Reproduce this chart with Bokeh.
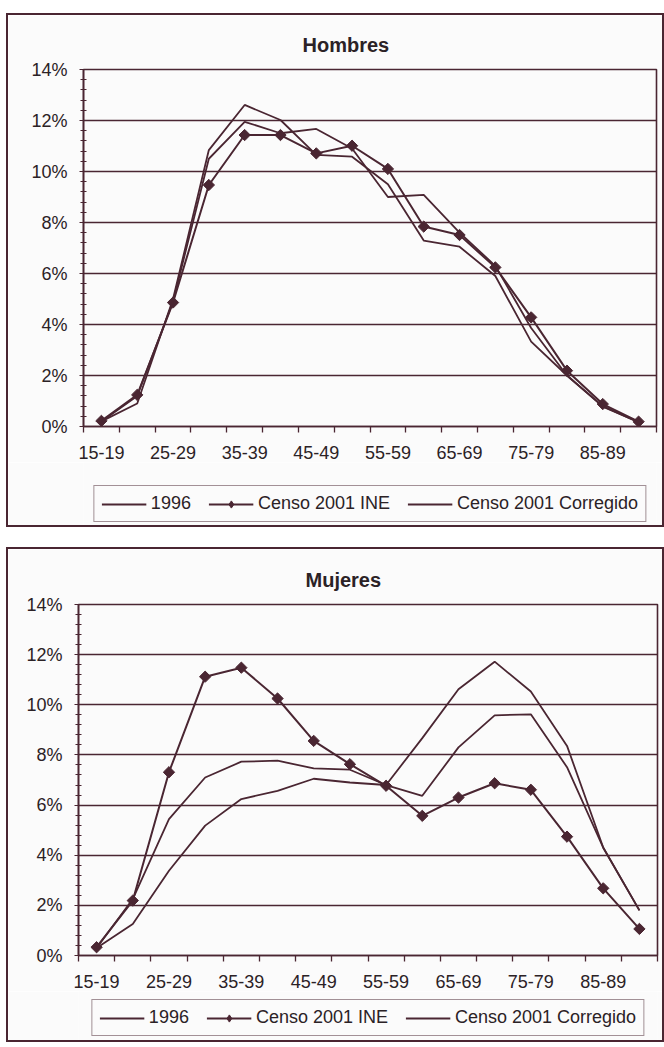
import numpy as np
from bokeh.plotting import figure
from bokeh.layouts import column
from bokeh.models import (Range1d, FixedTicker, SingleIntervalTicker, PrintfTickFormatter,
                          Legend, LegendItem)
from bokeh.embed import file_html
from bokeh.resources import INLINE

# ---------------- data ----------------
age_groups = ["15-19", "20-24", "25-29", "30-34", "35-39", "40-44", "45-49", "50-54",
              "55-59", "60-64", "65-69", "70-74", "75-79", "80-84", "85-89", "90-94"]

hombres_1996 = [0.2, 0.9, 5.0, 10.84, 12.61, 12.02, 10.65, 10.58, 9.5, 7.29, 7.05, 5.9, 3.33, 2.0, 0.78, 0.17]
hombres_ine = [0.22, 1.24, 4.86, 9.47, 11.43, 11.43, 10.71, 11.01, 10.1, 7.84, 7.51, 6.24, 4.28, 2.19, 0.88, 0.19]
hombres_corr = [0.2, 1.2, 4.9, 10.5, 11.95, 11.5, 11.67, 10.9, 9.0, 9.08, 7.6, 6.3, 3.86, 2.0, 0.8, 0.17]

mujeres_1996 = [0.3, 2.25, 5.44, 7.1, 7.73, 7.77, 7.46, 7.41, 6.8, 6.37, 8.3, 9.58, 9.62, 7.51, 4.3, 1.8]
mujeres_ine = [0.33, 2.19, 7.31, 11.12, 11.48, 10.25, 8.56, 7.63, 6.77, 5.57, 6.3, 6.87, 6.61, 4.74, 2.68, 1.06]
mujeres_corr = [0.3, 1.26, 3.38, 5.18, 6.24, 6.57, 7.05, 6.9, 6.8, 8.67, 10.62, 11.72, 10.53, 8.36, 4.31, 1.8]

y_ticks_step = 2
y_max = 14
legend_labels = ["1996", "Censo 2001 INE", "Censo 2001 Corregido"]

INK = "#4a2632"
TEXT = "#2b2226"
FONT = "Liberation Sans"
BG = "#fbfbfb"
TICK_FS = "18px"

xs = np.arange(len(age_groups)) + 0.5
NAN1 = np.array([np.nan])


def make_chart(title, title_offset, s1996, sine, scorr, frame_w, frame_h, left, right, top, bottom):
    p = figure(frame_width=frame_w, frame_height=frame_h,
               output_backend="svg", toolbar_location=None,
               x_range=Range1d(0, len(age_groups)), y_range=Range1d(0, y_max),
               min_border_left=left, min_border_right=right,
               min_border_top=top, min_border_bottom=bottom,
               background_fill_color=BG, border_fill_color=BG,
               outline_line_color=INK, outline_line_width=1.6)
    p.title.text = title
    p.title.text_font = FONT
    p.title.text_font_size = "20px"
    p.title.text_font_style = "bold"
    p.title.text_color = TEXT
    p.title.align = "left"
    p.title.offset = title_offset
    p.title.standoff = 27

    p.line(xs, s1996, line_color=INK, line_width=1.8)
    p.line(xs, sine, line_color=INK, line_width=2.0)
    p.scatter(xs, sine, marker="square", angle=np.pi / 4, size=8,
              fill_color=INK, line_color=INK)
    p.line(xs, scorr, line_color=INK, line_width=1.8)

    # x axis: ticks between groups, labels at every other group
    xa = p.xaxis[0]
    xa.ticker = FixedTicker(ticks=[float(x) for x in xs[::2]],
                            minor_ticks=list(range(len(age_groups) + 1)))
    xa.major_label_overrides = {float(xs[i]): age_groups[i] for i in range(0, len(age_groups), 2)}
    xa.major_tick_out = 0
    xa.major_tick_in = 0
    xa.minor_tick_out = 6
    xa.minor_tick_in = 0
    xa.minor_tick_line_color = INK
    xa.minor_tick_line_width = 1.3
    xa.axis_line_color = INK
    xa.axis_line_width = 1.6
    xa.major_label_text_font = FONT
    xa.major_label_text_font_size = TICK_FS
    xa.major_label_text_color = TEXT
    xa.major_label_standoff = 13

    ya = p.yaxis[0]
    ya.ticker = SingleIntervalTicker(interval=y_ticks_step, num_minor_ticks=5)
    ya.formatter = PrintfTickFormatter(format="%d%%")
    ya.major_tick_out = 4
    ya.major_tick_in = 0
    ya.minor_tick_out = 3
    ya.minor_tick_in = 3
    ya.major_tick_line_color = INK
    ya.minor_tick_line_color = INK
    ya.minor_tick_line_width = 1.2
    ya.axis_line_color = INK
    ya.axis_line_width = 1.6
    ya.major_label_text_font = FONT
    ya.major_label_text_font_size = TICK_FS
    ya.major_label_text_color = TEXT
    ya.major_label_standoff = 12

    p.xgrid.grid_line_color = None
    p.ygrid.grid_line_color = INK
    p.ygrid.grid_line_width = 1.6
    p.ygrid.ticker = SingleIntervalTicker(interval=y_ticks_step)
    return p


def make_legend(width, height, left, margin):
    lp = figure(width=width, height=height, output_backend="svg", toolbar_location=None,
                x_axis_type=None, y_axis_type=None, x_range=Range1d(0, 1), y_range=Range1d(0, 1),
                min_border_left=left, min_border_right=0, min_border_top=0, min_border_bottom=0,
                outline_line_color=None,
                background_fill_color=BG, border_fill_color=BG)
    lp.xgrid.visible = False
    lp.ygrid.visible = False
    r1 = lp.line(x=NAN1, y=NAN1, line_color=INK, line_width=1.8)
    r2 = lp.line(x=NAN1, y=NAN1, line_color=INK, line_width=2.0)
    r2m = lp.scatter(x=NAN1, y=NAN1, marker="diamond", size=16,
                     fill_color=INK, line_color=INK)
    r3 = lp.line(x=NAN1, y=NAN1, line_color=INK, line_width=1.8)
    legend = Legend(items=[LegendItem(label=legend_labels[0], renderers=[r1]),
                           LegendItem(label=legend_labels[1], renderers=[r2, r2m]),
                           LegendItem(label=legend_labels[2], renderers=[r3])],
                    orientation="horizontal", location="bottom_center",
                    border_line_color=INK, border_line_width=1.6,
                    background_fill_color=BG, background_fill_alpha=1.0,
                    label_text_font=FONT, label_text_font_size=TICK_FS,
                    label_text_color=TEXT, glyph_width=45, glyph_height=18,
                    label_standoff=5, spacing=17, padding=7, margin=margin)
    lp.add_layout(legend, "center")
    return lp


BOX = {"outline": f"2px solid {INK}", "outline-offset": "0px"}

c1 = make_chart("Hombres", 219, hombres_1996, hombres_ine, hombres_corr,
                frame_w=573, frame_h=357, left=75, right=6, top=54, bottom=36)
l1 = make_legend(654, 63, 69, 3)
box1 = column(c1, l1, spacing=0, margin=(15, 0, 0, 8), styles=BOX)

c2 = make_chart("Mujeres", 227, mujeres_1996, mujeres_ine, mujeres_corr,
                frame_w=579, frame_h=351, left=70, right=5, top=55, bottom=36)
l2 = make_legend(654, 49, 65, 4)
box2 = column(c2, l2, spacing=0, margin=(24, 0, 0, 8), styles=BOX)

layout = column(box1, box2, spacing=0)
open("out.html", "w").write(file_html(layout, INLINE))
